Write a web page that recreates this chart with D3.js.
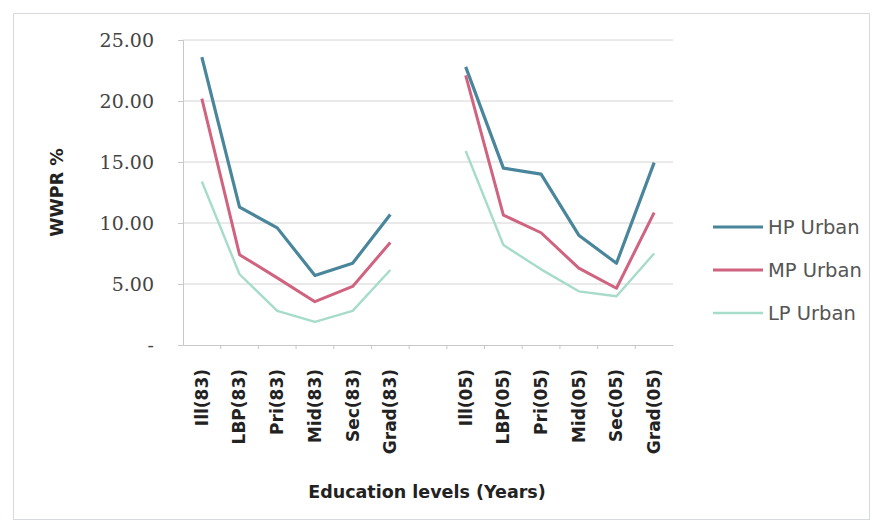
<!DOCTYPE html>
<html>
<head>
<meta charset="utf-8">
<script src="https://cdn.jsdelivr.net/npm/d3@7"></script>
<style>
  body { margin: 0; background: #fff; }
  text { font-family: "DejaVu Sans", sans-serif; }
</style>
</head>
<body>
<svg id="chart" width="882" height="527"></svg>
<script>
const cats83 = ['Ill(83)', 'LBP(83)', 'Pri(83)', 'Mid(83)', 'Sec(83)', 'Grad(83)'];
const cats05 = ['Ill(05)', 'LBP(05)', 'Pri(05)', 'Mid(05)', 'Sec(05)', 'Grad(05)'];
const yTicks = [0, 5, 10, 15, 20, 25];

const hp83 = [23.6, 11.3, 9.6, 5.7, 6.7, 10.7];
const hp05 = [22.8, 14.5, 14.0, 9.0, 6.7, 14.95];
const mp83 = [20.2, 7.4, 5.5, 3.55, 4.8, 8.4];
const mp05 = [22.1, 10.65, 9.2, 6.3, 4.65, 10.85];
const lp83 = [13.4, 5.8, 2.8, 1.9, 2.8, 6.15];
const lp05 = [15.9, 8.2, 6.2, 4.4, 4.0, 7.5];

const series = [
    { name: 'HP Urban', color: '#4a869b', width: 3.2, v83: hp83, v05: hp05 },
    { name: 'MP Urban', color: '#d0637f', width: 3, v83: mp83, v05: mp05 },
    { name: 'LP Urban', color: '#a6dcc9', width: 2.4, v83: lp83, v05: lp05 }
];

const svg = d3.select('#chart');
const margin = { top: 40, left: 183, right: 209, bottom: 182 };
const width = 882 - margin.left - margin.right;
const height = 527 - margin.top - margin.bottom;

// outer chart border
svg.append('rect')
    .attr('x', 13.5).attr('y', 13.5)
    .attr('width', 856).attr('height', 506)
    .attr('fill', 'none')
    .attr('stroke', '#d6d9e0');

const g = svg.append('g').attr('transform', `translate(${margin.left},${margin.top})`);

const xScale = d3.scaleBand()
    .domain([...cats83, 'gap', ...cats05])
    .range([0, width])
    .padding(0);

const yScale = d3.scaleLinear().domain([0, 25]).range([height, 0]);

// gridlines
g.append('g')
    .selectAll('line')
    .data(yTicks.filter(d => d > 0))
    .join('line')
    .attr('x1', 0).attr('x2', width)
    .attr('y1', d => yScale(d)).attr('y2', d => yScale(d))
    .attr('stroke', '#d4d4d4')
    .attr('stroke-width', 1);

// y axis
const yAxis = g.append('g')
    .call(d3.axisLeft(yScale).tickValues(yTicks).tickSize(5).tickPadding(24)
        .tickFormat(d => d === 0 ? '-' : d3.format('.2f')(d)));
yAxis.select('.domain').attr('stroke', '#c8c8c8');
yAxis.selectAll('.tick line').attr('stroke', '#c8c8c8');
yAxis.selectAll('.tick text')
    .attr('fill', '#444')
    .style('font-size', '19px')
    .style('font-family', '"DejaVu Serif", serif');

// x axis
const xAxis = g.append('g')
    .attr('transform', `translate(0,${height})`)
    .call(d3.axisBottom(xScale).tickSize(0).tickFormat(d => d === 'gap' ? '' : d));
xAxis.select('.domain').attr('stroke', '#c8c8c8');
xAxis.selectAll('.tick text')
    .attr('transform', 'rotate(-90)')
    .attr('text-anchor', 'end')
    .attr('x', -24)
    .attr('y', 0)
    .attr('dy', '0.35em')
    .attr('fill', '#222')
    .style('font-size', '17px')
    .style('font-weight', 'bold');

// category boundary ticks
g.append('g')
    .selectAll('line')
    .data(xScale.domain().slice(1))
    .join('line')
    .attr('x1', d => xScale(d)).attr('x2', d => xScale(d))
    .attr('y1', height).attr('y2', height + 4)
    .attr('stroke', '#c8c8c8');

// lines
const line = d3.line()
    .x(d => xScale(d.cat) + xScale.bandwidth() / 2)
    .y(d => yScale(d.value));

series.forEach(s => {
    [[cats83, s.v83], [cats05, s.v05]].forEach(([cats, vals]) => {
        g.append('path')
            .datum(cats.map((c, i) => ({ cat: c, value: vals[i] })))
            .attr('fill', 'none')
            .attr('stroke', s.color)
            .attr('stroke-width', s.width)
            .attr('stroke-linejoin', 'round')
            .attr('d', line);
    });
});

// axis titles
svg.append('text')
    .attr('x', 427)
    .attr('y', 498)
    .attr('text-anchor', 'middle')
    .attr('fill', '#222')
    .style('font-size', '17.5px')
    .style('font-weight', 'bold')
    .text('Education levels (Years)');

svg.append('text')
    .attr('transform', `translate(63,${margin.top + height / 2}) rotate(-90)`)
    .attr('text-anchor', 'middle')
    .attr('fill', '#222')
    .style('font-size', '17.5px')
    .style('font-weight', 'bold')
    .text('WWPR %');

// legend
const legend = svg.append('g').attr('transform', 'translate(713,227)');
series.forEach((s, i) => {
    const row = legend.append('g').attr('transform', `translate(0,${i * 43})`);
    row.append('line')
        .attr('x1', 0).attr('x2', 50)
        .attr('stroke', s.color)
        .attr('stroke-width', s.width);
    row.append('text')
        .attr('x', 55)
        .attr('dy', '0.35em')
        .attr('fill', '#555')
        .style('font-size', '19.5px')
        .text(s.name);
});
</script>
</body>
</html>
